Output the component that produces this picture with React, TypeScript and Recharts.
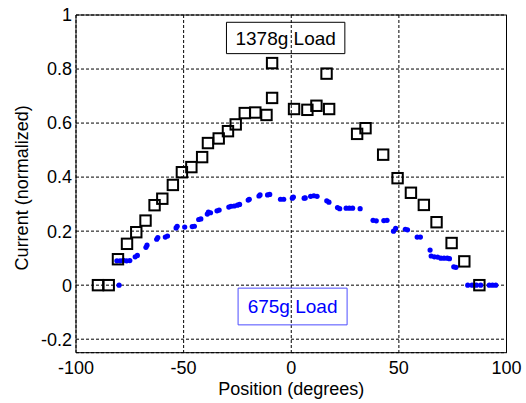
import React from 'react';
import {
  ScatterChart,
  Scatter,
  XAxis,
  YAxis,
  CartesianGrid,
  ReferenceArea,
} from 'recharts';

// heavy load: open squares (position in degrees, normalized current)
const heavyPos = [
  -89.8, -84.8, -80.5, -76.3, -72, -67.7, -63.5, -59.9, -55, -50.8, -46.4, -41.4,
  -38.7, -33.7, -29.4, -25.8, -21.6, -16.7, -11.5, -8.9, -8.9, 1.3, 7.5, 11.7,
  16.4, 17.6, 30.6, 34.5, 42.7, 49.4, 55.6, 61.6, 67.5, 74.5, 80.4, 87.4,
];
const heavyCurrent = [
  0, 0, 0.096, 0.153, 0.196, 0.239, 0.296, 0.32, 0.371, 0.418, 0.437, 0.474,
  0.526, 0.543, 0.57, 0.595, 0.637, 0.639, 0.63, 0.693, 0.822, 0.652, 0.649, 0.664,
  0.783, 0.652, 0.56, 0.581, 0.483, 0.396, 0.342, 0.297, 0.233, 0.156, 0.088, 0,
];

// light load: dense dot samples
const lightPos = [
  -80, -81, -79.5, -78, -76.5, -75, -72.5, -71.5, -67.5, -67, -62.5, -62, -58.5,
  -57.5, -53.5, -53, -49.5, -46, -45, -43, -42, -39, -38.5, -37.5, -34.5, -33.5,
  -29, -28, -26.5, -25, -24, -20, -19.5, -15, -14.5, -11, -10, -5, -3.5, 0.5, 1,
  6, 6.5, 9, 10.5, 12, 16.5, 17.5, 21.5, 22.5, 25.5, 27, 28.5, 32, 38, 39.5, 43,
  44.5, 47.5, 48.5, 53, 54, 58.5, 60, 64.5, 65, 66.5, 68, 69.5, 71, 72.5, 73.5,
  75.5, 76.5, 82, 84, 86, 88, 92, 93.5, 95,
];
const lightCurrent = [
  0, 0.09, 0.09, 0.092, 0.09, 0.091, 0.105, 0.11, 0.14, 0.148, 0.17, 0.176, 0.178,
  0.182, 0.212, 0.218, 0.215, 0.217, 0.218, 0.243, 0.245, 0.263, 0.27, 0.268, 0.275, 0.278,
  0.289, 0.292, 0.293, 0.296, 0.299, 0.315, 0.318, 0.33, 0.334, 0.334, 0.336, 0.318, 0.318, 0.322, 0.326,
  0.322, 0.323, 0.329, 0.331, 0.329, 0.312, 0.307, 0.287, 0.283, 0.285, 0.285, 0.285, 0.283, 0.24, 0.238, 0.239,
  0.24, 0.2, 0.21, 0.207, 0.205, 0.178, 0.178, 0.13, 0.108, 0.105, 0.104, 0.1, 0.1, 0.1, 0.098,
  0.068, 0.066, 0, 0, 0, 0, 0, 0, 0,
];

const xTicks = [-100, -50, 0, 50, 100];
const yTicks = [-0.2, 0, 0.2, 0.4, 0.6, 0.8, 1];

const heavy = heavyPos.map((x, i) => ({ x, y: heavyCurrent[i] }));
const light = lightPos.map((x, i) => ({ x, y: lightCurrent[i] }));

const FONT = '"Liberation Sans", Arial, sans-serif';

const Square = (props: any) => {
  const { cx, cy } = props;
  if (cx == null || cy == null) return null;
  return <rect x={cx - 5.2} y={cy - 5.2} width={10.4} height={10.4} fill="none" stroke="#000" strokeWidth={2} />;
};

const Dot = (props: any) => {
  const { cx, cy } = props;
  if (cx == null || cy == null) return null;
  return <circle cx={cx} cy={cy} r={2.6} fill="#0000ff" />;
};

export default function App() {
  return (
    <div style={{ position: 'absolute', left: 0, top: 0, background: '#fff', fontFamily: FONT }}>
      <ScatterChart width={526} height={403} margin={{ top: 15, right: 19.5, bottom: 0, left: 0 }}>
        <CartesianGrid stroke="#000" strokeDasharray="3 2" />
        <XAxis
          type="number"
          dataKey="x"
          domain={[-100, 100]}
          ticks={xTicks}
          height={50.3}
          axisLine={false}
          tickLine={false}
          tickSize={0}
          tickMargin={9}
          tick={{ fontSize: 18, fill: '#000', fontFamily: FONT }}
          label={{ value: 'Position (degrees)', position: 'insideBottom', offset: 8, fontSize: 18, fill: '#000', fontFamily: FONT }}
        />
        <YAxis
          type="number"
          dataKey="y"
          domain={[-0.25, 1]}
          ticks={yTicks}
          width={76}
          axisLine={false}
          tickLine={false}
          tickSize={0}
          tickMargin={4}
          tick={{ fontSize: 18, fill: '#000', fontFamily: FONT }}
          label={{
            value: 'Current (normalized)',
            angle: -90,
            position: 'insideLeft',
            offset: 22,
            dy: 4,
            fontSize: 18,
            fill: '#000',
            fontFamily: FONT,
            style: { textAnchor: 'middle' },
          }}
        />
        {/* axes box */}
        <ReferenceArea x1={-100} x2={100} y1={-0.25} y2={1} fill="none" stroke="#000" strokeWidth={1} />
        <ReferenceArea
          x1={-30.1}
          x2={24.9}
          y1={0.857}
          y2={0.973}
          fill="none"
          stroke="#000"
          strokeWidth={1}
          label={{ value: '1378g Load', position: 'center', fontSize: 19, fill: '#000', fontFamily: FONT }}
        />
        <ReferenceArea
          x1={-24.7}
          x2={25.95}
          y1={-0.147}
          y2={-0.011}
          fill="none"
          stroke="#4d4dff"
          strokeWidth={1}
          label={{ value: '675g Load', position: 'center', fontSize: 19, fill: '#0000ff', fontFamily: FONT }}
        />
        <Scatter data={light} shape={<Dot />} isAnimationActive={false} />
        <Scatter data={heavy} shape={<Square />} isAnimationActive={false} />
      </ScatterChart>
    </div>
  );
}
